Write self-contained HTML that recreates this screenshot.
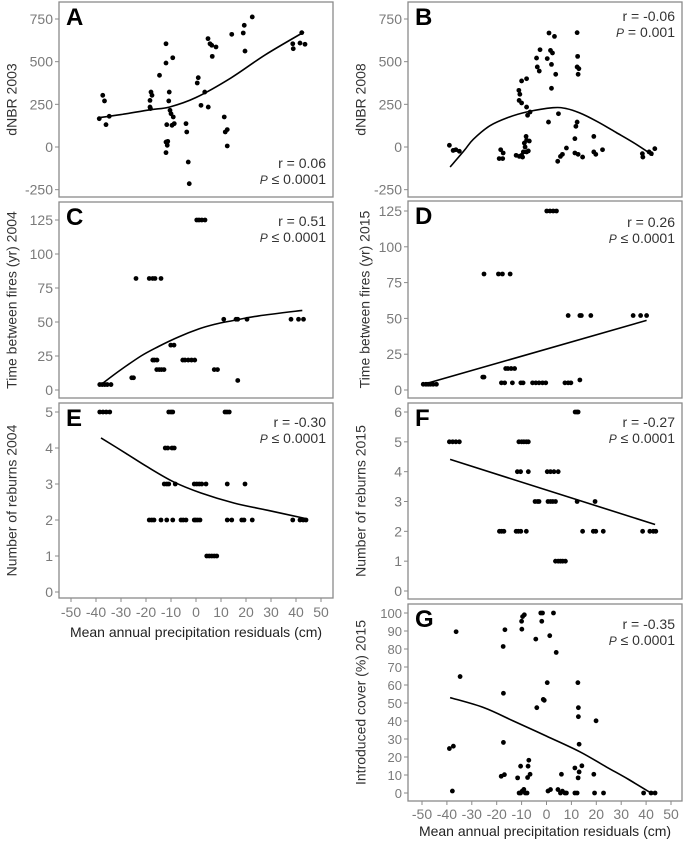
<!DOCTYPE html>
<html><head><meta charset="utf-8"><style>
html,body{margin:0;padding:0;background:#fff;}
svg{display:block;font-family:"Liberation Sans",Arial,sans-serif;}
</style></head><body>
<svg id="fig" width="685" height="841" viewBox="0 0 685 841" xmlns="http://www.w3.org/2000/svg"></svg>
<script>
// ---------- DATA ----------
const xTicks = [-50,-40,-30,-20,-10,0,10,20,30,40,50];
// Panel A (dNBR 2003)
const aX = [-38.7,-37.3,-36.6,-36,-34.7,-18.4,-18,-17.6,-18.4,-18.2,-14.6,-12,-12,-9.3,-10.7,-10.9,-10.4,-10,-9.1,-11.7,-9.6,-8.7,-11.5,-12,-11.3,-12,-4,-3.7,-3.1,-2.7,0.5,0.9,2,3.5,4.9,4.8,5.6,6.3,6.5,8,11.3,11.7,12.5,12.5,14.3,18.9,19.3,19.6,22.5,38.7,38.9,41.6,42.3,43.6];
const aY = [166,303,270,131,180,273,322,303,234,225,420,605,492,523,322,270,215,195,176,131,127,137,10,29,33,-33,137,88,-88,-215,375,406,244,322,234,635,605,596,531,586,176,88,102,6,660,668,713,562,762,605,576,609,670,602];
const aFitX = [-38.7,-30,-18.4,-10.7,0,14,27.7,43.2];
const aFitY = [172,190,218,234,290,405,540,674];
// Panel B (dNBR 2008)
const bX = [-39,-37.5,-36.4,-35,-18.4,-19,-17.6,-17.4,-12.2,-10.9,-10,-9.6,-9.3,-8.6,-8.9,-8,-6.9,-8.2,-8,-7.3,-11.1,-10.7,-11,-10,-10,-8,-8,-7.6,-6.6,-4,-3.7,-2.9,-2.6,0.3,1,1.6,2,2.4,3.2,3.7,2,0.8,4.8,4.5,5.6,6.4,8,11.4,12.3,12.5,12.3,13,12.7,12.3,11.8,11.4,12.7,14.5,19,19,19.8,22.5,38.5,38.7,41.2,42.1,43.5];
const bY = [10,-20,-16,-25,-16,-68,-68,-35,-49,-55,-49,-59,-29,0,23,39,35,62,-29,-23,332,309,273,258,387,400,234,186,205,521,469,445,570,518,668,566,484,551,648,426,344,146,195,-84,-55,-43,-6,-35,670,531,469,459,426,146,121,49,-43,-59,62,-29,-43,-16,-39,-59,-29,-39,-10];
const bFitX = [-38.7,-33,-29.4,-22.7,-15,-8,2.6,8,13.3,20,28,35,42.8];
const bFitY = [-117,-20,45,125,175,205,230,225,200,152,85,25,-49];
// Panel C (time between fires 2004)
const cX = [-38.5,-37.5,-36.5,-35.5,-34,-25.7,-25,-24,-18.7,-17.3,-16.4,-14,-17.3,-16.6,-15.6,-15.7,-14.7,-13.8,-12.8,-10.1,-8.8,-5.3,-4.4,-3.1,-1.8,-0.5,0.3,1.2,2.3,3.6,7.3,8.6,11.1,16,16.7,16.7,20.4,38,41,43];
const cY = [4,4,4,4,4,9,9,82,82,82,82,82,22,22,22,15,15,15,15,33,33,22,22,22,22,22,125,125,125,125,15,15,52,52,52,7,52,52,52,52];
const cFitX = [-37.3,-30,-22,-15,-7,1.3,8,14.7,25,42.5];
const cFitY = [5,15,25,32,39,45,48.5,51,54.5,58.5];
// Panel D (time between fires 2015)
const dX = [-49.5,-48.4,-47.5,-46.6,-45.5,-44.2,-25.6,-25.1,-25.1,-19.3,-17.7,-14.6,-16.4,-15.5,-14.2,-12.8,-18.1,-16.8,-13.7,-10.3,-9.4,-5.6,-4.3,-3,-1.6,-0.3,0.1,1.4,2.7,4,7.4,8.7,9.8,8.7,13.4,14,17.8,13.4,34.8,37.8,40.2];
const dY = [4,4,4,4,4,4,9,9,81,81,81,81,15,15,15,15,5,5,5,5,5,5,5,5,5,5,125,125,125,125,5,5,5,52,52,52,52,7,52,52,52];
const dFitX = [-49.5,40.2];
const dFitY = [3.9,48.6];
// Panel E (reburns 2004)
const eX = [-38.5,-37.2,-35.9,-34.5,-10.9,-10,-9.3,11.6,12.4,13.3,-12.3,-11.3,-9.6,-8.7,-12.7,-11.7,-10.9,-8.3,-0.7,0.3,1.3,2.3,4,12.5,19.6,-18.7,-17.7,-16.8,-14,-11.7,-9.3,-6,-5.1,-4,-0.7,-0.1,0.7,1.6,12.5,14.3,18.3,19.2,22.5,38.7,41.6,42.9,44,4.3,5.3,6.3,7.3,8.3];
const eY = [5,5,5,5,5,5,5,5,5,5,4,4,4,4,3,3,3,3,3,3,3,3,3,3,3,2,2,2,2,2,2,2,2,2,2,2,2,2,2,2,2,2,2,2,2,2,2,1,1,1,1,1];
const eFitX = [-38,-28,-19.3,-8.7,2,15.3,28.7,44];
const eFitY = [4.28,3.85,3.47,3.05,2.75,2.47,2.27,2.04];
// Panel F (reburns 2015)
const fX = [-39,-37.7,-36.4,-35,-11.1,-10,-9.1,-8.1,-7.3,-11.7,-10.4,-7.3,0.3,1.6,3,4.7,-4.6,-3.6,-3,0.6,1.6,2.5,3.6,12.3,19.5,-18.9,-18,-17.1,-12.2,-11.3,-10.3,-8.1,14.5,18.8,19.8,22.8,38.6,41.5,42.9,43.9,11.5,12.2,12.7,3.6,4.7,5.6,6.5,7.6];
const fY = [5,5,5,5,5,5,5,5,5,4,4,4,4,4,4,4,3,3,3,3,3,3,3,3,3,2,2,2,2,2,2,2,2,2,2,2,2,2,2,2,6,6,6,1,1,1,1,1];
const fFitX = [-38.7,43.6];
const fFitY = [4.41,2.23];
// Panel G (introduced cover 2015)
const gX = [-36.3,-16.7,-10,-9.6,-8.9,-9.9,-2.3,-1.6,-1.9,2.8,-4.3,1.3,-17.4,-34.7,3.9,0.3,12.6,-17.3,-1.3,-0.9,-3.9,12.8,12.8,19.9,-17.3,13.1,-39,-37.4,-7.1,-10.4,-7.4,11.4,14.2,-18.2,-16.9,-11.6,-7.6,-6.6,6,12.7,13.1,19,-37.8,-11,-10.4,-9.8,-9.1,-8.5,-7.8,0.6,1.6,4.6,5.6,6.4,7.4,8,11.4,12.3,19.3,22.9,39,42,43.6];
const gY = [89.6,90.7,95.4,98,99,91,100,100,95.4,100,85.5,87.4,81.4,64.7,78.1,61.3,61.3,55.4,52,51.5,47.4,47.4,42.4,40.1,28.1,27.1,24.7,26,18.2,14.9,14.9,13.9,15.1,9.3,10.2,8.4,8.6,10.4,10.4,8.4,11.7,10.4,1.1,0,0,1,2,0,0,1.1,1.9,1.9,0,1,0,0,0,0,0,0,0,0,0];
const gFitX = [-38.7,-25.3,-13.3,0,13.4,24,33,42];
const gFitY = [53,47.5,40,31.6,22.9,14.5,7.5,0];

// ---------- DRAW ----------
const NS = "http://www.w3.org/2000/svg";
const svg = document.getElementById('fig');
function mk(tag, attrs, parent){
  const e = document.createElementNS(NS, tag);
  for (const k in attrs) e.setAttribute(k, attrs[k]);
  (parent||svg).appendChild(e);
  return e;
}
function smoothPath(pts){
  if (pts.length < 3) return 'M' + pts.map(p => p[0].toFixed(1) + ' ' + p[1].toFixed(1)).join(' L');
  let d = 'M' + pts[0][0].toFixed(1) + ' ' + pts[0][1].toFixed(1);
  for (let i = 0; i < pts.length - 1; i++){
    const p0 = pts[i-1] || pts[i], p1 = pts[i], p2 = pts[i+1], p3 = pts[i+2] || p2;
    const c1 = [p1[0] + (p2[0]-p0[0])/6, p1[1] + (p2[1]-p0[1])/6];
    const c2 = [p2[0] - (p3[0]-p1[0])/6, p2[1] - (p3[1]-p1[1])/6];
    d += ` C${c1[0].toFixed(1)} ${c1[1].toFixed(1)} ${c2[0].toFixed(1)} ${c2[1].toFixed(1)} ${p2[0].toFixed(1)} ${p2[1].toFixed(1)}`;
  }
  return d;
}
function panel(p){
  const g = mk('g', {});
  
  
  const sx = v => p.x0 + (v - (-50)) * (p.x50 - p.x0) / 100;
  const sy = v => p.yA + (v - p.vA) * (p.yB - p.yA) / (p.vB - p.vA);
  const frame = mk('rect', {x:p.L, y:p.T, width:p.R-p.L, height:p.B-p.T, fill:'#fff', stroke:'#8a8a8a', 'stroke-width':1.3}, g);
  
  
  p.yTicks.forEach(t => {
    const y = sy(t);
    mk('line', {x1:p.L-4, x2:p.L, y1:y, y2:y, stroke:'#8a8a8a', 'stroke-width':1}, g);
    const tx = mk('text', {x:p.L-6, y:y+5, 'text-anchor':'end', 'font-size':p.tickFs||14, fill:'#7a7a7a'}, g);
    tx.textContent = (t<0 ? '-' + Math.abs(t) : t);
    
    
  });
  const yt = mk('text', {x:p.ytX, y:(p.T+p.B)/2, transform:`rotate(-90 ${p.ytX} ${(p.T+p.B)/2})`, 'text-anchor':'middle', 'font-size':14, fill:'#333', 'dominant-baseline':'middle'}, g);
  yt.textContent = p.ytitle;
  
  
  if (p.xAxis){
    xTicks.forEach(t => {
      const x = sx(t);
      mk('line', {x1:x, x2:x, y1:p.B, y2:p.B+4, stroke:'#8a8a8a', 'stroke-width':1}, g);
      const tx = mk('text', {x:x, y:p.B+p.xlOff, 'text-anchor':'middle', 'font-size':14, fill:'#7a7a7a'}, g);
      tx.textContent = t;
      
      
    });
    const xt = mk('text', {x:(p.L+p.R)/2, y:p.B+p.xtOff, 'text-anchor':'middle', 'font-size':14, fill:'#222'}, g);
    xt.textContent = 'Mean annual precipitation residuals (cm)';
    
    
  }
  p.xs.forEach((v,i) => {
    const c = mk('circle', {cx:sx(v), cy:sy(p.ys[i]), r:2.4, fill:'#000'}, g);
    
    
  });
  const pts = p.fx.map((v,i) => [sx(v), sy(p.fy[i])]);
  const path = mk('path', {d:smoothPath(pts), fill:'none', stroke:'#000', 'stroke-width':1.6, 'stroke-linejoin':'round'}, g);
  
  
  const lt = mk('text', {x:p.L+7, y:p.T+23, 'font-size':24, 'font-weight':'bold', fill:'#000'}, g);
  lt.textContent = p.letter;
  
  
  const r = mk('text', {x:p.R-7, y:p.statY, 'text-anchor':'end', 'font-size':14, fill:'#333'}, g);
  r.textContent = p.r;
  
  
  const pt = mk('text', {x:p.R-7, y:p.statY+16, 'text-anchor':'end', 'font-size':14, fill:'#333'}, g);
  const it = mk('tspan', {'font-style':'italic', 'font-size':12}, pt);
  it.textContent = 'P';
  const rest = mk('tspan', {}, pt);
  rest.textContent = p.p;
  
  
}
const LX = {L:59, R:333, x0:71, x50:321};
const RX = {L:408, R:682, x0:422, x50:671};
panel(Object.assign({}, LX, {T:2, B:197, yA:19, vA:750, yB:147, vB:0, yTicks:[750,500,250,0,-250], ytitle:'dNBR 2003', ytX:13, xs:aX, ys:aY, fx:aFitX, fy:aFitY, letter:'A', r:'r = 0.06', p:' ≤ 0.0001', statY:168}));
panel(Object.assign({}, RX, {T:2, B:197, yA:19, vA:750, yB:147, vB:0, yTicks:[750,500,250,0,-250], ytitle:'dNBR 2008', ytX:362, xs:bX, ys:bY, fx:bFitX, fy:bFitY, letter:'B', r:'r = -0.06', p:' = 0.001', statY:21}));
panel(Object.assign({}, LX, {T:202, B:398, yA:220, vA:125, yB:390, vB:0, yTicks:[125,100,75,50,25,0], ytitle:'Time between fires (yr) 2004', ytX:13, xs:cX, ys:cY, fx:cFitX, fy:cFitY, letter:'C', r:'r = 0.51', p:' ≤ 0.0001', statY:226}));
panel(Object.assign({}, RX, {T:201, B:398, yA:211, vA:125, yB:390, vB:0, yTicks:[125,100,75,50,25,0], ytitle:'Time between fires (yr) 2015', ytX:366, xs:dX, ys:dY, fx:dFitX, fy:dFitY, letter:'D', r:'r = 0.26', p:' ≤ 0.0001', statY:227}));
panel(Object.assign({}, LX, {T:403, B:598, yA:412, vA:5, yB:592, vB:0, yTicks:[5,4,3,2,1,0], ytitle:'Number of reburns 2004', ytX:13, xs:eX, ys:eY, fx:eFitX, fy:eFitY, letter:'E', r:'r = -0.30', p:' ≤ 0.0001', statY:427, xAxis:true, xlOff:19, xtOff:39}));
panel(Object.assign({}, RX, {T:403, B:599, yA:412, vA:6, yB:591, vB:0, yTicks:[6,5,4,3,2,1,0], ytitle:'Number of reburns 2015', ytX:362, xs:fX, ys:fY, fx:fFitX, fy:fFitY, letter:'F', r:'r = -0.27', p:' ≤ 0.0001', statY:427}));
panel(Object.assign({}, RX, {T:604, B:801, yA:613, vA:100, yB:793, vB:0, yTicks:[100,90,80,70,60,50,40,30,20,10,0], tickFs:13, ytitle:'Introduced cover (%) 2015', ytX:362, xs:gX, ys:gY, fx:gFitX, fy:gFitY, letter:'G', r:'r = -0.35', p:' ≤ 0.0001', statY:629, xAxis:true, xlOff:18, xtOff:35}));
</script>
</body></html>
